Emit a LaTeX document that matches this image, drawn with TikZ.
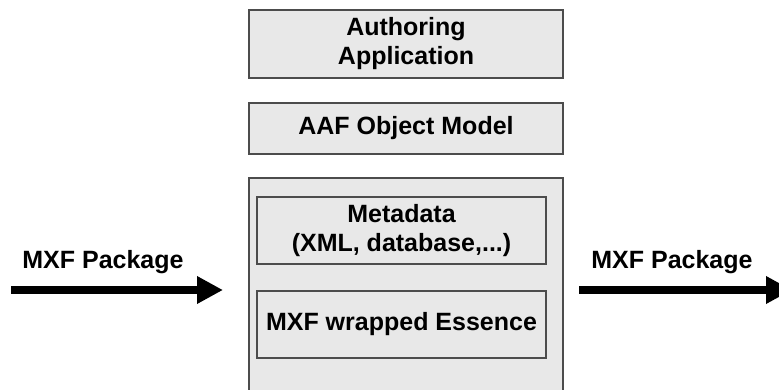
\documentclass[tikz,border=0pt]{standalone}
\usepackage{fontspec}
\setmainfont{Liberation Sans}
\usetikzlibrary{arrows.meta}
\definecolor{boxfill}{gray}{0.91}
\definecolor{boxline}{gray}{0.3}
\tikzset{
	layerbox/.style={draw=boxline, line width=1.2pt, fill=boxfill, inner sep=0pt, align=center},
	flowarrow/.style={line width=8.5pt, -{Triangle[length=26pt,width=26pt]}}
}

\begin{document}
\begin{tikzpicture}[x=1pt, y=-1pt, node font=\fontsize{25}{29}\selectfont\bfseries]
			\useasboundingbox (0,0) rectangle (779,390);
			\fill[white] (0,0) rectangle (779,390);
			\node[layerbox, minimum width=314pt, minimum height=68pt] (app) at (406,44) {Authoring\\Application};
			\node[layerbox, minimum width=314pt, minimum height=51pt] (model) at (406,128.5) {AAF Object Model};
			\node[layerbox, minimum width=314pt, minimum height=232pt] (store) at (406,294) {};
			\node[layerbox, minimum width=289pt, minimum height=67pt] (meta) at (401.5,230.5) {Metadata\\(XML, database,...)};
			\node[layerbox, minimum width=289pt, minimum height=67pt] (essence) at (401.5,324.5) {MXF wrapped Essence};
			\coordinate (inA) at (11,290);
			\coordinate (inB) at (223,290);
			\coordinate (outA) at (579,290);
			\coordinate (outB) at (792,290);
			\draw[flowarrow] (inA) -- (inB);
			\draw[flowarrow] (outA) -- (outB);
			\node (inlabel) at (103,262) {MXF Package};
			\node (outlabel) at (672,262) {MXF Package};
		\end{tikzpicture}
\end{document}
